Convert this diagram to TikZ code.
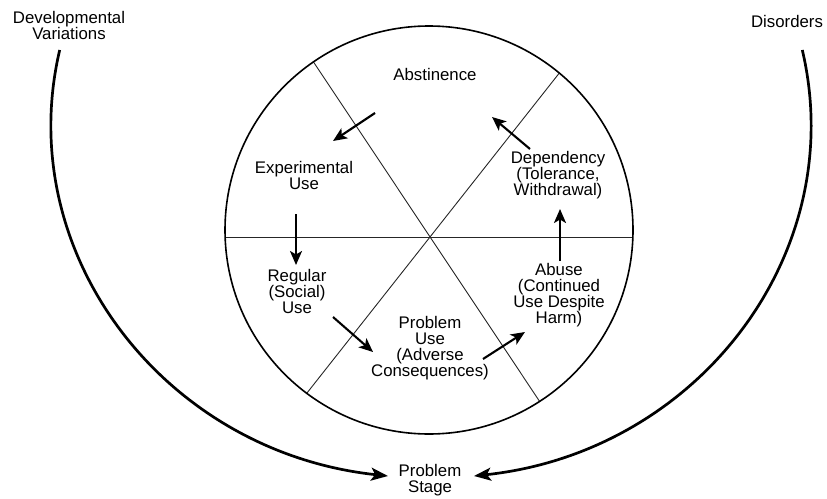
\documentclass[tikz,border=0pt]{standalone}
\usepackage{fontspec}
\setmainfont{Liberation Sans}
\usetikzlibrary{arrows.meta}
\begin{document}
\begin{tikzpicture}[x=1pt,y=-1pt,
  lbl/.style={align=center, font=\fontsize{16.8}{16}\selectfont, inner sep=0pt, text=black},
  flow/.style={line width=2.1pt, -{Stealth[length=14pt,width=12pt,inset=3.5pt]}},
  outerarc/.style={line width=2.7pt, -{Stealth[length=17pt,width=13pt,inset=4pt]}},
  divider/.style={line width=0.9pt, draw=black!85}]
\path[use as bounding box] (0,0) rectangle (827,498);

% wheel
\begin{scope}
  \clip (429,230) circle[radius=204pt];
  \draw[divider] (200,237) -- (660,237);
  \draw[divider] (280,11.7) -- (580,462);
  \draw[divider] (580,46.8) -- (280,427.2);
\end{scope}
\node[draw, circle, minimum size=408pt, inner sep=0pt, line width=1.6pt] (wheel) at (429,230) {};

% stage labels
\node[lbl] (abst)    at (435,74)  {Abstinence};
\node[lbl] (exper)   at (304,175) {Experimental\\Use};
\node[lbl] (regular) at (297,291) {Regular\\(Social)\\Use};
\node[lbl] (problem) at (430,348) {Problem\\Use\\(Adverse\\Consequences)};
\node[lbl] (abuse)   at (559,295) {Abuse\\(Continued\\Use Despite\\Harm)};
\node[lbl] (depend)  at (558,175) {Dependency\\(Tolerance,\\Withdrawal)};

\node[lbl] (devvar)  at (69,25)   {Developmental\\Variations};
\node[lbl] (disord)  at (787,21)  {Disorders};
\node[lbl] (pstage)  at (430,480) {Problem\\Stage};

% inner flow arrows
\coordinate (a1s) at (375,113); \coordinate (a1e) at (333,141);
\coordinate (a2s) at (296,214); \coordinate (a2e) at (296,265);
\coordinate (a3s) at (333,317); \coordinate (a3e) at (373,352);
\coordinate (a4s) at (483,359); \coordinate (a4e) at (525,332);
\coordinate (a5s) at (560,261); \coordinate (a5e) at (560,209);
\coordinate (a6s) at (530,149); \coordinate (a6e) at (492,117);
\draw[flow] (a1s) -- (a1e);
\draw[flow] (a2s) -- (a2e);
\draw[flow] (a3s) -- (a3e);
\draw[flow] (a4s) -- (a4e);
\draw[flow] (a5s) -- (a5e);
\draw[flow] (a6s) -- (a6e);

% outer arcs
\coordinate (dvtop) at (59.7,50);
\coordinate (dstop) at (802.3,50);
\coordinate (ptl) at (388,476);
\coordinate (ptr) at (474,476);
\draw[outerarc] (dvtop) .. controls (11.8,253.7) and (164.3,452) .. (ptl);
\draw[outerarc] (dstop) .. controls (850.2,253.7) and (697.7,452) .. (ptr);
\end{tikzpicture}
\end{document}
